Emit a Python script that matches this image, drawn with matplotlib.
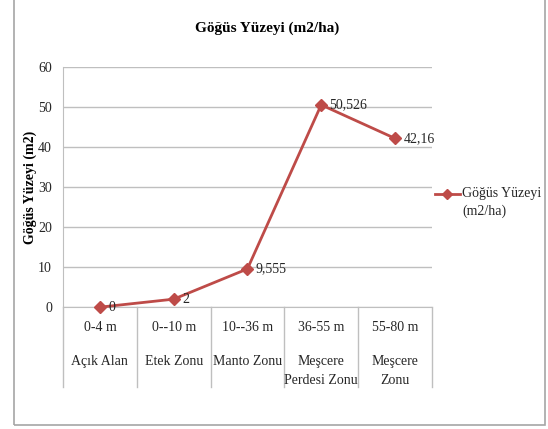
import matplotlib.pyplot as plt
from matplotlib.patches import Rectangle
from matplotlib.lines import Line2D

plt.rcParams['font.family'] = ['Liberation Serif', 'DejaVu Serif']

# Veriler
araliklar = ["0-4 m", "0--10 m", "10--36 m", "36-55 m", "55-80 m"]
zonlar = ["Açık Alan", "Etek Zonu", "Manto Zonu", "Meşcere\nPerdesi Zonu", "Meşcere\nZonu"]
gogus_yuzeyi = [0, 2, 9.555, 50.526, 42.16]
etiketler = ["0", "2", "9,555", "50,526", "42,16"]

renk = "#BE4B48"
izgara = "#BFBFBF"

fig = plt.figure(figsize=(5.48, 4.29), dpi=100)
ax = fig.add_axes([0.115, 0.284, 0.673, 0.56])

# Grafik cercevesi
fig.patches.append(Rectangle((0.025, 0.01), 0.97, 1.2, transform=fig.transFigure,
                             fill=False, edgecolor="#A6A6A6", linewidth=1.2))

x = list(range(len(araliklar)))
ax.plot(x, gogus_yuzeyi, color=renk, linewidth=2, marker="D", markersize=6.5,
        clip_on=False, zorder=3)
for xi, yi, et in zip(x, gogus_yuzeyi, etiketler):
    ax.annotate(et, (xi, yi), xytext=(6, 0), textcoords="offset points",
                va="center", ha="left", fontsize=10, color="#262626")

ax.set_xlim(-0.5, len(x) - 0.5)
ax.set_ylim(0, 60)
ax.set_yticks(range(0, 61, 10))
ax.yaxis.grid(True, color=izgara, linewidth=1)
ax.set_axisbelow(True)
ax.tick_params(axis="y", length=0, pad=8, labelsize=10, labelcolor="#262626")
ax.tick_params(axis="x", length=0, labelbottom=False)
for s in ["top", "right"]:
    ax.spines[s].set_visible(False)
ax.spines["left"].set_color(izgara)
ax.spines["bottom"].set_color(izgara)

# Kategori ayirici cizgileri ve etiketler
for b in [i - 0.5 for i in range(len(x) + 1)]:
    ax.add_line(Line2D([b, b], [0, -0.333], transform=ax.get_xaxis_transform(),
                       color=izgara, linewidth=1, clip_on=False))
for xi, a, z in zip(x, araliklar, zonlar):
    ax.text(xi, -0.083, a, transform=ax.get_xaxis_transform(), ha="center",
            va="center", fontsize=10, color="#262626")
    ax.text(xi, -0.2, z, transform=ax.get_xaxis_transform(), ha="center",
            va="top", fontsize=10, color="#262626", linespacing=1.55)

ax.set_ylabel("Göğüs Yüzeyi (m2)", fontsize=10, fontweight="bold")
ax.yaxis.set_label_coords(-0.07, 0.5)
fig.text(0.487, 0.935, "Göğüs Yüzeyi (m2/ha)", ha="center", va="center",
         fontsize=11, fontweight="bold")

# Lejant
fig.add_artist(Line2D([0.793, 0.8165, 0.84], [0.548, 0.548, 0.548], color=renk,
                      linewidth=2, marker="D", markersize=5, markevery=[1],
                      transform=fig.transFigure))
fig.text(0.843, 0.565, "Göğüs Yüzeyi\n(m2/ha)", ha="left", va="top",
         fontsize=10, color="#262626", linespacing=1.5)

fig.savefig("out.png", dpi=100)
